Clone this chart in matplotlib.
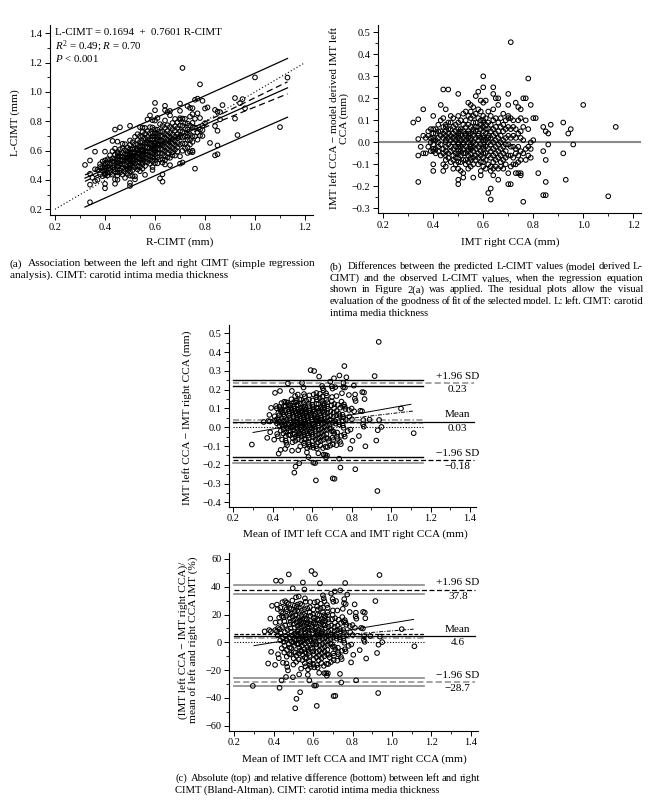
import numpy as np
import matplotlib
matplotlib.use("Agg")
import matplotlib.pyplot as plt
from matplotlib.ticker import MultipleLocator

plt.rcParams['font.family'] = ['Liberation Serif', 'DejaVu Serif']
plt.rcParams['mathtext.fontset'] = 'custom'
plt.rcParams['mathtext.rm'] = 'Liberation Serif'
plt.rcParams['mathtext.it'] = 'Liberation Serif:italic'

# ---------------- data ----------------
# regression (panel a)
intercept = 0.1694
slope = 0.7601

# right CIMT values (mm) and residuals (observed L - model L)
r_low = [0.32, 0.34, 0.34, 0.34, 0.34, 0.35, 0.36, 0.36, 0.36, 0.37, 0.37]
res_low = [0.09, 0.105, 0.015, -0.06, -0.18, -0.02, 0.15, 0.03, -0.05, -0.05, 0.02]

r_a = [0.38, 0.38, 0.38,
       0.39, 0.39, 0.39, 0.39,
       0.40, 0.40, 0.40, 0.40, 0.40, 0.40, 0.40, 0.40, 0.40, 0.40,
       0.41, 0.41, 0.41, 0.41, 0.41,
       0.42, 0.42, 0.42, 0.42, 0.42, 0.42,
       0.43, 0.43, 0.43, 0.43, 0.43, 0.43,
       0.44, 0.44, 0.44, 0.44, 0.44, 0.44, 0.44, 0.44, 0.44,
       0.45, 0.45, 0.45, 0.45, 0.45, 0.45, 0.45, 0.45, 0.45, 0.45, 0.45, 0.45,
       0.46, 0.46, 0.46, 0.46, 0.46, 0.46, 0.46, 0.46,
       0.47, 0.47, 0.47, 0.47, 0.47, 0.47, 0.47, 0.47,
       0.48, 0.48, 0.48, 0.48, 0.48, 0.48, 0.48, 0.48, 0.48,
       0.49, 0.49, 0.49, 0.49, 0.49, 0.49, 0.49, 0.49]
res_a = [0.03, -0.02, 0.05,
         0.00, -0.04, 0.02, 0.06,
         0.12, 0.06, 0.04, 0.01, -0.01, -0.03, -0.04, -0.10, -0.13, 0.02,
         0.06, 0.01, -0.03, 0.04, -0.05,
         0.05, 0.02, -0.02, -0.04, 0.08, 0.00,
         0.17, 0.03, -0.01, -0.06, 0.05, 0.10,
         0.24, 0.11, 0.07, 0.02, -0.03, -0.05, -0.10, -0.13, 0.04,
         0.15, 0.08, 0.05, 0.03, 0.00, -0.02, -0.04, -0.06, -0.08, -0.11, 0.07, 0.01,
         0.24, 0.09, 0.06, 0.02, -0.01, -0.05, -0.07, 0.04,
         0.09, 0.06, 0.03, -0.02, -0.04, -0.09, 0.01, 0.12,
         0.11, 0.07, 0.04, 0.00, -0.03, -0.06, -0.12, 0.02, -0.08,
         0.08, 0.05, 0.01, -0.02, -0.05, -0.07, -0.10, 0.03]

r_b = [0.50, 0.50, 0.50, 0.50, 0.50, 0.50, 0.50, 0.50, 0.50, 0.50, 0.50, 0.50, 0.50, 0.50, 0.50, 0.50, 0.50,
       0.51, 0.51, 0.51, 0.51, 0.51, 0.51, 0.51, 0.51, 0.51, 0.51,
       0.52, 0.52, 0.52, 0.52, 0.52, 0.52, 0.52, 0.52, 0.52, 0.52, 0.52,
       0.53, 0.53, 0.53, 0.53, 0.53, 0.53, 0.53, 0.53, 0.53, 0.53,
       0.54, 0.54, 0.54, 0.54, 0.54, 0.54, 0.54, 0.54, 0.54, 0.54, 0.54, 0.54,
       0.55, 0.55, 0.55, 0.55, 0.55, 0.55, 0.55, 0.55, 0.55, 0.55, 0.55, 0.55, 0.55, 0.55,
       0.56, 0.56, 0.56, 0.56, 0.56, 0.56, 0.56, 0.56, 0.56, 0.56, 0.56, 0.56,
       0.57, 0.57, 0.57, 0.57, 0.57, 0.57, 0.57, 0.57, 0.57, 0.57,
       0.58, 0.58, 0.58, 0.58, 0.58, 0.58, 0.58, 0.58, 0.58, 0.58, 0.58,
       0.59, 0.59, 0.59, 0.59, 0.59, 0.59, 0.59, 0.59, 0.59, 0.59, 0.59, 0.59]
res_b = [0.22, 0.12, 0.09, 0.06, 0.04, 0.02, 0.00, -0.02, -0.04, -0.05, -0.07, -0.09, -0.12, -0.17, -0.19, 0.03, -0.01,
         0.10, 0.06, 0.03, 0.01, -0.02, -0.04, -0.06, -0.09, -0.13, 0.05,
         0.13, 0.08, 0.05, 0.02, -0.01, -0.03, -0.05, -0.08, -0.14, -0.16, 0.00,
         0.14, 0.10, 0.07, 0.04, 0.01, -0.02, -0.05, -0.08, -0.10, 0.03,
         0.18, 0.12, 0.08, 0.05, 0.02, 0.00, -0.03, -0.06, -0.09, -0.12, 0.04, -0.04,
         0.17, 0.14, 0.11, 0.07, 0.04, 0.01, -0.01, -0.03, -0.05, -0.07, -0.08, -0.11, 0.02, -0.02,
         0.16, 0.12, 0.09, 0.06, 0.03, 0.00, -0.02, -0.04, -0.07, -0.10, -0.16, 0.05,
         0.21, 0.13, 0.09, 0.05, 0.02, -0.01, -0.03, -0.06, -0.08, 0.07,
         0.23, 0.15, 0.11, 0.07, 0.04, 0.01, -0.02, -0.05, -0.07, -0.10, 0.03,
         0.19, 0.14, 0.10, 0.06, 0.02, -0.01, -0.04, -0.06, -0.09, -0.13, -0.15, 0.08]

r_c = [0.60, 0.60, 0.60, 0.60, 0.60, 0.60, 0.60, 0.60, 0.60, 0.60, 0.60, 0.60, 0.60, 0.60, 0.60, 0.60, 0.60, 0.60,
       0.61, 0.61, 0.61, 0.61, 0.61, 0.61, 0.61, 0.61, 0.61, 0.61,
       0.62, 0.62, 0.62, 0.62, 0.62, 0.62, 0.62, 0.62, 0.62, 0.62,
       0.63, 0.63, 0.63, 0.63, 0.63, 0.63, 0.63, 0.63, 0.63, 0.63, 0.63,
       0.64, 0.64, 0.64, 0.64, 0.64, 0.64, 0.64, 0.64, 0.64, 0.64, 0.64, 0.64,
       0.65, 0.65, 0.65, 0.65, 0.65, 0.65, 0.65, 0.65, 0.65,
       0.66, 0.66, 0.66, 0.66, 0.66, 0.66, 0.66, 0.66, 0.66, 0.66,
       0.67, 0.67, 0.67, 0.67, 0.67, 0.67, 0.67, 0.67,
       0.68, 0.68, 0.68, 0.68, 0.68, 0.68, 0.68, 0.68,
       0.69, 0.69, 0.69, 0.69, 0.69, 0.69, 0.69]
res_c = [0.30, 0.25, 0.18, 0.12, 0.09, 0.07, 0.05, 0.03, 0.01, -0.01, -0.03, -0.05, -0.07, -0.09, -0.11, 0.02, -0.02, 0.10,
         0.19, 0.11, 0.08, 0.04, 0.01, -0.02, -0.05, -0.08, -0.12, 0.06,
         0.14, 0.09, 0.06, 0.03, 0.00, -0.03, -0.06, -0.10, -0.23, 0.02,
         0.12, 0.08, 0.05, 0.02, -0.01, -0.04, -0.07, -0.11, -0.21, -0.26, -0.13,
         0.25, 0.22, 0.15, 0.10, 0.06, 0.03, 0.00, -0.03, -0.06, -0.09, -0.12, -0.15,
         0.20, 0.11, 0.07, 0.04, 0.01, -0.02, -0.05, -0.08, -0.11,
         0.20, 0.17, 0.09, 0.05, 0.02, -0.01, -0.04, -0.07, -0.17, -0.12,
         0.11, 0.07, 0.03, 0.00, -0.03, -0.06, -0.09, -0.11,
         0.08, 0.05, 0.01, -0.02, -0.05, -0.08, -0.12, 0.13,
         0.10, 0.06, 0.02, -0.01, -0.04, -0.07, -0.10]

r_d = [0.70, 0.70, 0.70, 0.70, 0.70, 0.70, 0.70, 0.70, 0.70, 0.70,
       0.71, 0.71, 0.71, 0.71, 0.71, 0.71, 0.71, 0.71,
       0.72, 0.72, 0.72, 0.72, 0.72, 0.72,
       0.73, 0.73, 0.73, 0.73, 0.73, 0.73, 0.73,
       0.74, 0.74, 0.74, 0.74, 0.74, 0.74, 0.74,
       0.75, 0.75, 0.75, 0.75, 0.75, 0.75, 0.75, 0.75,
       0.76, 0.76, 0.76, 0.76, 0.76,
       0.77, 0.77, 0.77, 0.77,
       0.78, 0.78, 0.78, 0.78,
       0.79, 0.79, 0.79, 0.79]
res_d = [0.22, 0.17, 0.12, 0.11, 0.07, 0.03, -0.01, -0.06, -0.14, -0.19,
         0.455, 0.11, 0.06, 0.02, -0.02, -0.06, -0.19, -0.11,
         0.10, 0.07, 0.03, -0.02, -0.07, -0.10,
         0.18, 0.06, 0.02, -0.03, -0.05, -0.10, -0.14,
         0.16, 0.10, 0.04, -0.02, -0.06, -0.09, -0.14,
         0.15, 0.11, 0.05, 0.02, -0.04, -0.08, -0.14, -0.15,
         0.20, 0.07, 0.01, -0.05, -0.27,
         0.20, 0.10, -0.03, -0.08,
         0.29, 0.06, -0.02, -0.06,
         0.17, 0.00, -0.03, -0.07]

r_e = [0.80, 0.80, 0.81, 0.82, 0.84, 0.84, 0.84, 0.85, 0.85, 0.85, 0.85,
       0.86, 0.86, 0.87, 0.92, 0.92, 0.93, 0.94, 0.95, 0.96, 1.00, 1.10, 1.13]
res_e = [0.11, 0.01, 0.11, -0.14, 0.07, -0.04, -0.24, -0.08, -0.18, -0.24, 0.05,
         0.04, -0.01, 0.08, 0.09, -0.05, -0.17, 0.04, 0.06, -0.01, 0.17, -0.245, 0.07]

# Bland-Altman statistics (panel c)
abs_mean = 0.029
abs_upper = 0.234
abs_lower = -0.176
abs_upper_ci = [0.218, 0.253]
abs_mean_ci = [0.020, 0.040]
abs_lower_ci = [-0.192, -0.157]
abs_trend_x = [0.30, 1.10]
abs_trend_y = [-0.028, 0.122]
abs_trend2_x = [0.62, 1.11]
abs_trend2_y = [0.026, 0.086]

pct_mean = 4.6
pct_upper = 37.8
pct_lower = -28.7
pct_upper_ci = [35.0, 41.2]
pct_mean_ci = [3.0, 6.2]
pct_lower_ci = [-31.6, -25.8]
pct_trend_x = [0.30, 1.11]
pct_trend_y = [-2.4, 16.5]
pct_trend2_x = [0.62, 1.11]
pct_trend2_y = [4.0, 9.5]

# ---------------- derived ----------------
r_all = np.array(r_low + r_a + r_b + r_c + r_d + r_e)
res_all = np.array(res_low + res_a + res_b + res_c + res_d + res_e)
assert len(r_all) == len(res_all)
l_all = intercept + slope * r_all + res_all
ba_mean = (l_all + r_all) / 2
ba_diff = l_all - r_all
ba_pct = ba_diff / ba_mean * 100

# ---------------- figure ----------------
W, H = 664, 808
fig = plt.figure(figsize=(W / 100, H / 100), dpi=100)
GRAY = '#8a8a8a'
TICK_FS = 7.4
LAB_FS = 8.1
ANN_FS = 7.8
CAP_FS = 8.2


def make_ax(l, r, t, b):
    ax = fig.add_axes([l / W, 1 - b / H, (r - l) / W, (b - t) / H])
    for s in ['top', 'right']:
        ax.spines[s].set_visible(False)
    for s in ['left', 'bottom']:
        ax.spines[s].set_linewidth(0.8)
    ax.tick_params(which='major', direction='out', length=3.5, width=0.7, labelsize=TICK_FS, pad=2)
    ax.tick_params(which='minor', direction='out', length=2, width=0.6)
    return ax


def scatter(ax, x, y):
    ax.scatter(x, y, s=11, facecolors='none', edgecolors='black', linewidths=0.75, zorder=3)


# ---- panel (a)
ax = make_ax(50, 313, 25, 215)
scatter(ax, r_all, l_all)
ax.plot([0.2, 1.2], [0.2, 1.2], ls=(0, (1, 2)), color='black', lw=0.8)
n = len(r_all)
xbar = r_all.mean()
sxx = ((r_all - xbar) ** 2).sum()
s_res = np.sqrt((res_all ** 2).sum() / (n - 2))
xs = np.linspace(r_all.min(), r_all.max(), 60)
fit = intercept + slope * xs
ci = 1.966 * s_res * np.sqrt(1 / n + (xs - xbar) ** 2 / sxx)
pi = 1.966 * s_res * np.sqrt(1 + 1 / n + (xs - xbar) ** 2 / sxx)
ax.plot(xs, fit, color='black', lw=0.9)
ax.plot(xs, fit + ci, color='black', lw=0.9, ls=(0, (5, 3)))
ax.plot(xs, fit - ci, color='black', lw=0.9, ls=(0, (5, 3)))
ax.plot(xs, fit + pi, color='black', lw=0.9)
ax.plot(xs, fit - pi, color='black', lw=0.9)
ax.set_xlim(0.18, 1.232)
ax.set_ylim(0.161, 1.457)
ax.xaxis.set_major_locator(MultipleLocator(0.2))
ax.xaxis.set_minor_locator(MultipleLocator(0.1))
ax.yaxis.set_major_locator(MultipleLocator(0.2))
ax.yaxis.set_minor_locator(MultipleLocator(0.1))
ax.set_xlabel('R-CIMT (mm)', fontsize=LAB_FS)
ax.set_ylabel('L-CIMT (mm)', fontsize=LAB_FS)
ax.xaxis.set_label_coords(0.494, -0.118)
ax.yaxis.set_label_coords(-0.114, 0.484)
ax.text(0.019, 0.958, f'L-CIMT = {intercept:.4f}  +  {slope:.4f} R-CIMT', transform=ax.transAxes,
        fontsize=ANN_FS, va='center', ha='left')
ax.text(0.019, 0.889, r'$R^2$ = 0.49; $R$ = 0.70', transform=ax.transAxes,
        fontsize=ANN_FS, va='center', ha='left')
ax.text(0.019, 0.826, r'$P$ < 0.001', transform=ax.transAxes,
        fontsize=ANN_FS, va='center', ha='left')

# ---- panel (b)
ax = make_ax(378, 641, 25, 213)
ax.axhline(0, color=GRAY, lw=1.5, zorder=1)
scatter(ax, r_all, res_all)
ax.set_xlim(0.179, 1.231)
ax.set_ylim(-0.321, 0.533)
ax.xaxis.set_major_locator(MultipleLocator(0.2))
ax.xaxis.set_minor_locator(MultipleLocator(0.1))
ax.yaxis.set_major_locator(MultipleLocator(0.1))
ax.yaxis.set_minor_locator(MultipleLocator(0.05))
ax.set_xlabel('IMT right CCA (mm)', fontsize=LAB_FS)
ax.set_ylabel('IMT left CCA \u2212 model derived IMT left\nCCA (mm)', fontsize=LAB_FS, linespacing=1.0)
ax.xaxis.set_label_coords(0.502, -0.132)
ax.yaxis.set_label_coords(-0.110, 0.505)


def ba_panel(ax, y, mean, upper, lower, mean_ci, upper_ci, lower_ci, tx, ty, t2x, t2y,
             fmt, top_style):
    ci_end = 1.163
    full_end = 1.42
    x0 = 0.2
    if top_style:
        ax.plot([x0, ci_end], [upper_ci[0]] * 2, color='black', lw=1.0)
        ax.plot([x0, ci_end], [upper_ci[1]] * 2, color='black', lw=1.0)
        ax.plot([x0, ci_end], [lower_ci[1]] * 2, color='black', lw=1.0)
        ax.plot([x0, ci_end], [lower_ci[0]] * 2, color=GRAY, lw=1.2)
        ax.plot([x0, full_end], [upper, upper], color=GRAY, lw=1.1, ls=(0, (4, 2)))
        ax.plot([x0, full_end], [lower, lower], color='black', lw=0.9, ls=(0, (4, 2)))
        ax.plot([x0, ci_end], [mean_ci[1], mean_ci[1]], color=GRAY, lw=1.1, ls=(0, (4, 1.5, 1, 1.5)))
        ax.plot([x0, ci_end], [mean_ci[0], mean_ci[0]], color=GRAY, lw=1.1, ls=(0, (3, 1.5)))
    else:
        for v in upper_ci + lower_ci:
            ax.plot([x0, ci_end], [v, v], color=GRAY, lw=1.2)
        ax.plot([x0, full_end], [upper, upper], color='black', lw=0.9, ls=(0, (4, 2)))
        ax.plot([x0, full_end], [lower, lower], color=GRAY, lw=1.1, ls=(0, (4, 2)))
        ax.plot([x0, ci_end], [mean_ci[1], mean_ci[1]], color='black', lw=0.9, ls=(0, (3, 1.5)))
        ax.plot([x0, ci_end], [mean_ci[0], mean_ci[0]], color=GRAY, lw=1.1, ls=(0, (4, 1.5, 1, 1.5)))
    ax.plot([x0, full_end], [mean, mean], color='black', lw=0.9)
    ax.plot([x0, ci_end], [0, 0], color='black', lw=0.8, ls=(0, (1, 1.5)))
    ax.plot(tx, ty, color='black', lw=0.7)
    ax.plot(t2x, t2y, color='black', lw=0.7, ls=(0, (4, 1.5, 1, 1.5)))
    scatter(ax, ba_mean, y)
    lx = 1.335
    for v, name in [(upper, '+1.96 SD'), (mean, 'Mean'), (lower, '\u22121.96 SD')]:
        ax.annotate(name, (lx, v), xytext=(0, 5), textcoords='offset points',
                    ha='center', va='center', fontsize=LAB_FS)
        ax.annotate(fmt(v), (lx, v), xytext=(0, -4.8), textcoords='offset points',
                    ha='center', va='center', fontsize=LAB_FS)


# ---- panel (c) top
ax = make_ax(229, 476, 325, 506.7)
ba_panel(ax, ba_diff, abs_mean, abs_upper, abs_lower, abs_mean_ci, abs_upper_ci, abs_lower_ci,
         abs_trend_x, abs_trend_y, abs_trend2_x, abs_trend2_y,
         lambda v: f"{v:.2f}".replace('-', '\u2212'), True)
ax.set_xlim(0.178, 1.43)
ax.set_ylim(-0.423, 0.544)
ax.xaxis.set_major_locator(MultipleLocator(0.2))
ax.xaxis.set_minor_locator(MultipleLocator(0.1))
ax.yaxis.set_major_locator(MultipleLocator(0.1))
ax.yaxis.set_minor_locator(MultipleLocator(0.05))
ax.set_xlabel('Mean of IMT left CCA and IMT right CCA (mm)', fontsize=LAB_FS)
ax.set_ylabel('IMT left CCA \u2212 IMT right CCA (mm)', fontsize=LAB_FS)
ax.xaxis.set_label_coords(0.51, -0.125)
ax.yaxis.set_label_coords(-0.151, 0.488)

# ---- panel (c) bottom
ax = make_ax(229, 478, 553, 730.7)
ba_panel(ax, ba_pct, pct_mean, pct_upper, pct_lower, pct_mean_ci, pct_upper_ci, pct_lower_ci,
         pct_trend_x, pct_trend_y, pct_trend2_x, pct_trend2_y,
         lambda v: f"{v:.1f}".replace('-', '\u2212'), False)
ax.set_xlim(0.173, 1.437)
ax.set_ylim(-63.6, 64.3)
ax.xaxis.set_major_locator(MultipleLocator(0.2))
ax.xaxis.set_minor_locator(MultipleLocator(0.1))
ax.yaxis.set_major_locator(MultipleLocator(20))
ax.yaxis.set_minor_locator(MultipleLocator(10))
ax.set_xlabel('Mean of IMT left CCA and IMT right CCA (mm)', fontsize=LAB_FS)
ax.set_ylabel('(IMT left CCA \u2212 IMT right CCA)/\nmean of left and right CCA IMT (%)', fontsize=LAB_FS,
              linespacing=1.0)
ax.xaxis.set_label_coords(0.502, -0.130)
ax.yaxis.set_label_coords(-0.124, 0.51)

# ---------------- captions (justified, one size per paragraph) ----------------
renderer = fig.canvas.get_renderer()


def word_widths(words, fs):
    objs = [fig.text(0, 0, w, fontsize=fs) for w in words]
    ws = [o.get_window_extent(renderer).width for o in objs]
    for o in objs:
        o.remove()
    return ws


def caption(lines, x0, x1, y0, dy, min_gap=1.6):
    fs = CAP_FS
    while fs > 6:
        ok = True
        for line in lines[:-1]:
            words = line.split(' ')
            ws = word_widths(words, fs)
            if ((x1 - x0) - sum(ws)) / max(len(words) - 1, 1) < min_gap:
                ok = False
                break
        if ok:
            break
        fs -= 0.1
    for i, line in enumerate(lines):
        y = 1 - (y0 + i * dy) / H
        if i == len(lines) - 1:
            fig.text(x0 / W, y, line, fontsize=fs, va='center', ha='left')
            continue
        words = line.split(' ')
        ws = word_widths(words, fs)
        gap = ((x1 - x0) - sum(ws)) / max(len(words) - 1, 1)
        x = x0
        for w, wd in zip(words, ws):
            fig.text(x / W, y, w, fontsize=fs, va='center', ha='left')
            x += wd + gap


caption(['(a)  Association between the left and right CIMT (simple regression',
         'analysis). CIMT: carotid intima media thickness'], 10, 315, 264, 11.2)
caption(['(b)  Differences between the predicted L-CIMT values (model derived L-',
         'CIMT) and the observed L-CIMT values, when the regression equation',
         'shown in Figure 2(a) was applied. The residual plots allow the visual',
         'evaluation of the goodness of fit of the selected model. L: left. CIMT: carotid',
         'intima media thickness'], 330, 643, 266.7, 11.6, min_gap=1.3)
caption(['(c)  Absolute (top) and relative difference (bottom) between left and right',
         'CIMT (Bland-Altman). CIMT: carotid intima media thickness'], 175, 480, 778.3, 11.7)

fig.savefig('out.png', dpi=100)
